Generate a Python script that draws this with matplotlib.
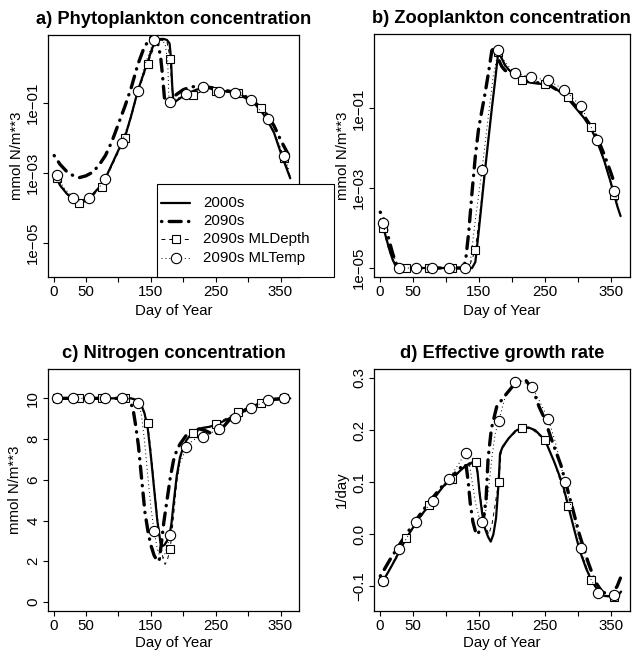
import numpy as np
import matplotlib
matplotlib.use("Agg")
import matplotlib.pyplot as plt
from matplotlib.lines import Line2D
from matplotlib.patches import Rectangle
from matplotlib.ticker import FixedLocator, NullLocator

plt.rcParams['font.family'] = ['Liberation Sans', 'DejaVu Sans']

W, H = 632, 656
FS = 10.8

# days carrying symbols for the two sensitivity runs
SQ_DAYS = [5, 40, 75, 110, 145, 180, 215, 250, 285, 320, 355]
CI_DAYS = [5, 30, 55, 80, 105, 130, 155, 180, 205, 230, 255, 280, 305, 330, 355]

# a) phytoplankton, log10 of mmol N/m**3
phy_base_day = [1, 10, 20, 30, 40, 50, 60, 70, 80, 90, 100, 110, 120, 130, 140, 145, 150, 155, 160, 165,
                170, 175, 179, 181, 183, 185, 190, 200, 210, 220, 230, 240, 250, 260, 270, 280, 290, 300, 310, 320,
                330, 340, 350, 360, 365]
phy_base = [-3.0, -3.35, -3.58, -3.75, -3.85, -3.8, -3.62, -3.42, -3.15, -2.75, -2.35, -1.98, -1.35, -0.65, -0.1,
            0.15, 0.45, 0.7, 0.8, 0.83, 0.83, 0.8, 0.7, 0.3, -0.5, -1.0, -0.93, -0.8, -0.7, -0.62, -0.58, -0.58,
            -0.62, -0.65, -0.68, -0.72, -0.8, -0.9, -1.02, -1.22, -1.5, -1.85, -2.4, -2.9, -3.15]
phy_2090_day = [1, 10, 20, 30, 40, 50, 60, 70, 80, 90, 100, 110, 120, 130, 140, 150, 155, 160, 165, 168,
                171, 175, 180, 190, 200, 210, 220, 230, 240, 250, 260, 270, 280, 290, 300, 310, 320, 330, 340, 350,
                360, 363]
phy_2090 = [-2.5, -2.75, -2.95, -3.07, -3.13, -3.08, -2.98, -2.78, -2.5, -2.1, -1.6, -1.1, -0.55, 0.1, 0.6, 0.87,
            0.88, 0.75, 0.35, -0.2, -0.85, -0.95, -0.9, -0.75, -0.62, -0.55, -0.52, -0.52, -0.55, -0.58, -0.62,
            -0.66, -0.7, -0.76, -0.85, -0.98, -1.15, -1.35, -1.65, -2.05, -2.4, -2.5]
phy_mld_day = [1, 5, 20, 40, 55, 75, 90, 110, 120, 130, 145, 155, 165, 175, 180, 182, 185, 195, 215, 230,
               250, 270, 285, 300, 320, 335, 355, 365]
phy_mld = [-3.05, -3.14, -3.6, -3.87, -3.75, -3.39, -2.8, -2.01, -1.4, -0.7, 0.11, 0.6, 0.8, 0.75, 0.26, -0.5,
           -0.97, -0.88, -0.77, -0.66, -0.65, -0.67, -0.71, -0.85, -1.15, -1.6, -2.58, -3.1]
phy_mlt_day = [1, 5, 15, 30, 40, 55, 65, 80, 90, 105, 115, 130, 140, 155, 165, 172, 176, 178, 180, 205,
               230, 255, 280, 305, 330, 345, 355, 363]
phy_mlt = [-2.95, -3.06, -3.4, -3.70, -3.8, -3.72, -3.55, -3.17, -2.75, -2.15, -1.6, -0.65, 0.05, 0.80, 0.82,
           0.7, 0.2, -0.9, -0.96, -0.74, -0.55, -0.68, -0.71, -0.91, -1.47, -2.05, -2.51, -2.9]

# b) zooplankton, log10 of mmol N/m**3
zoo_base_day = [1, 5, 10, 15, 20, 25, 30, 60, 100, 140, 145, 150, 155, 160, 165, 170, 175, 179, 181, 185,
                190, 195, 200, 205, 210, 215, 220, 230, 240, 250, 260, 270, 280, 290, 300, 310, 320, 330, 340, 350,
                360, 365]
zoo_base = [-3.8, -3.95, -4.25, -4.55, -4.8, -4.97, -5.0, -5.0, -5.0, -5.0, -4.85, -4.1, -3.3, -2.5, -1.75, -1.0,
            -0.3, 0.3, 0.4, 0.25, 0.08, -0.02, -0.1, -0.15, -0.22, -0.3, -0.33, -0.36, -0.38, -0.4, -0.45, -0.55,
            -0.68, -0.85, -1.05, -1.25, -1.5, -1.85, -2.3, -2.85, -3.45, -3.7]
zoo_2090_day = [1, 5, 10, 15, 20, 25, 30, 60, 100, 125, 130, 135, 140, 145, 150, 155, 160, 165, 170, 173,
                178, 185, 190, 200, 210, 220, 230, 240, 250, 260, 270, 280, 290, 300, 310, 320, 330, 340, 350, 355]
zoo_2090 = [-3.6, -3.7, -4.0, -4.35, -4.65, -4.88, -5.0, -5.0, -5.0, -5.0, -4.85, -4.1, -3.1, -2.2, -1.5, -1.05,
            -0.6, -0.1, 0.45, 0.5, 0.3, 0.05, -0.05, -0.12, -0.2, -0.28, -0.32, -0.36, -0.4, -0.45, -0.55, -0.66,
            -0.82, -1.0, -1.2, -1.45, -1.75, -2.15, -2.6, -2.85]
zoo_mld_day = [1, 5, 15, 25, 40, 75, 110, 135, 145, 155, 165, 175, 180, 190, 200, 215, 230, 250, 265, 285,
               300, 320, 340, 355, 365]
zoo_mld = [-3.85, -4.0, -4.6, -4.97, -5.0, -5.0, -5.0, -5.0, -4.55, -3.2, -1.7, -0.3, 0.4, 0.05, -0.12, -0.3,
           -0.36, -0.4, -0.5, -0.72, -1.0, -1.47, -2.3, -3.17, -3.7]
zoo_mlt_day = [1, 5, 15, 30, 55, 80, 105, 130, 137, 145, 155, 165, 172, 180, 190, 205, 230, 255, 280, 305,
               330, 345, 355, 362]
zoo_mlt = [-3.75, -3.87, -4.5, -5.0, -5.0, -5.0, -5.0, -5.0, -4.9, -3.8, -2.55, -1.15, -0.2, 0.47, 0.15, -0.12,
           -0.22, -0.3, -0.53, -0.95, -1.8, -2.6, -3.07, -3.4]

# c) nitrogen, mmol N/m**3
nit_base_day = [1, 100, 120, 130, 135, 140, 145, 150, 155, 160, 165, 168, 171, 175, 179, 182, 185, 190, 195, 200,
                205, 210, 220, 230, 240, 250, 260, 270, 280, 290, 300, 310, 320, 330, 340, 350, 365]
nit_base = [10, 10, 10, 9.9, 9.7, 9.3, 8.6, 7.2, 5.6, 4.0, 2.9, 2.75, 2.8, 3.0, 3.3, 3.9, 4.8, 6.2, 7.1, 7.6,
            7.95, 8.15, 8.45, 8.55, 8.6, 8.7, 8.85, 9.0, 9.2, 9.35, 9.5, 9.65, 9.8, 9.9, 9.97, 10.0, 10.0]
nit_2090_day = [1, 110, 115, 120, 123, 127, 131, 136, 141, 146, 150, 155, 160, 163, 166, 170, 175, 180, 185, 190,
                195, 205, 215, 225, 235, 245, 255, 262, 270, 280, 300, 320, 340, 365]
nit_2090 = [10, 10, 9.95, 9.7, 9.4, 8.6, 7.66, 6.0, 4.4, 3.4, 2.8, 2.3, 2.0, 2.05, 2.8, 3.9, 5.0, 6.1, 6.95, 7.45,
            7.75, 8.2, 8.45, 8.5, 8.4, 8.25, 8.3, 8.6, 8.9, 9.15, 9.5, 9.8, 9.95, 10.0]
nit_mld_day = [1, 5, 40, 75, 110, 125, 135, 145, 150, 155, 160, 165, 169, 172, 175, 180, 185, 190, 195, 200,
               207, 215, 230, 250, 265, 285, 300, 320, 340, 355, 365]
nit_mld = [10, 10, 10, 10, 10, 9.95, 9.65, 8.77, 7.5, 5.8, 4.2, 2.9, 2.1, 1.85, 2.0, 2.62, 4.2, 5.9, 7.0, 7.6,
           8.05, 8.28, 8.45, 8.72, 9.0, 9.35, 9.55, 9.79, 9.95, 10.0, 10.0]
nit_mlt_day = [1, 5, 30, 55, 80, 105, 120, 130, 135, 140, 145, 150, 155, 160, 165, 170, 175, 180, 185, 190,
               195, 205, 215, 230, 240, 255, 265, 280, 305, 330, 355, 365]
nit_mlt = [10, 10, 10, 10, 10, 10, 9.97, 9.79, 9.3, 8.0, 6.3, 4.7, 3.49, 2.6, 2.15, 2.2, 2.7, 3.27, 4.6, 5.9,
           6.8, 7.61, 7.95, 8.12, 8.25, 8.51, 8.75, 9.05, 9.51, 9.92, 10.0, 10.0]

# d) effective growth rate, 1/day
gr_base_day = [1, 5, 15, 25, 35, 41, 50, 60, 75, 90, 100, 110, 120, 130, 140, 145, 148, 151, 155, 159,
               164, 168, 172, 176, 180, 182, 186, 195, 205, 215, 225, 235, 250, 264, 277, 285, 295, 303, 312, 320,
               328, 336, 345, 355, 362, 365]
gr_base = [-0.092, -0.09, -0.068, -0.045, -0.02, -0.0065, 0.012, 0.032, 0.056, 0.082, 0.098, 0.107, 0.12, 0.132,
           0.138, 0.139, 0.12, 0.08, 0.04, 0.012, -0.005, -0.014, 0.0, 0.031, 0.101, 0.155, 0.168, 0.184, 0.198,
           0.205, 0.205, 0.2, 0.181, 0.139, 0.095, 0.055, 0.005, -0.033, -0.065, -0.088, -0.104, -0.117, -0.119,
           -0.119, -0.115, -0.11]
gr_2090_day = [1, 5, 15, 25, 35, 50, 65, 80, 95, 110, 120, 128, 131, 134, 137, 141, 145, 148, 152, 157,
               161, 164, 169, 177, 190, 205, 215, 221, 233, 241, 249, 261, 274, 287, 302, 315, 326, 336, 345, 352,
               359, 364]
gr_2090 = [-0.08, -0.072, -0.05, -0.03, -0.01, 0.018, 0.045, 0.07, 0.093, 0.112, 0.125, 0.135, 0.13, 0.1, 0.06,
           0.024, 0.005, -0.001, 0.01, 0.03, 0.069, 0.146, 0.203, 0.245, 0.267, 0.29, 0.296, 0.296, 0.274, 0.245,
           0.223, 0.178, 0.133, 0.072, 0.0, -0.053, -0.091, -0.11, -0.115, -0.112, -0.1, -0.084]
gr_mld_day = [1, 5, 20, 40, 55, 75, 90, 110, 125, 145, 150, 155, 160, 165, 170, 175, 180, 184, 195, 215,
              230, 250, 265, 285, 300, 320, 335, 355, 362]
gr_mld = [-0.093, -0.09, -0.055, -0.0065, 0.02, 0.056, 0.082, 0.107, 0.125, 0.139, 0.095, 0.05, 0.015, 0.0, 0.02,
          0.06, 0.101, 0.16, 0.185, 0.205, 0.202, 0.181, 0.135, 0.055, -0.02, -0.088, -0.115, -0.12, -0.115]
gr_mlt_day = [1, 5, 15, 30, 42, 55, 67, 80, 92, 105, 118, 130, 135, 140, 145, 150, 155, 160, 165, 170,
              175, 180, 190, 205, 215, 230, 240, 255, 265, 280, 290, 305, 315, 330, 340, 355, 362]
gr_mlt = [-0.095, -0.09, -0.068, -0.029, -0.005, 0.023, 0.044, 0.064, 0.085, 0.107, 0.132, 0.157, 0.14, 0.1, 0.06,
          0.035, 0.023, 0.04, 0.09, 0.15, 0.195, 0.217, 0.265, 0.292, 0.294, 0.283, 0.26, 0.221, 0.18, 0.101, 0.05,
          -0.026, -0.075, -0.112, -0.12, -0.117, -0.11]

LABELS = ["2000s", "2090s", "2090s MLDepth", "2090s MLTemp"]
X_TICKS = [0, 50, 100, 150, 200, 250, 300, 350]
X_TICKLABELS = ["0", "50", "", "150", "", "250", "", "350"]

# line styles, R-like
base_kw = dict(color="black", lw=1.6, solid_capstyle="round")
fut_kw = dict(color="black", lw=2.4, dashes=(0.1, 2.2, 3.6, 2.2), dash_capstyle="round")
mld_kw = dict(color="black", lw=0.7, dashes=(4, 4), marker="s", ms=6.0, mfc="white", mec="black", mew=0.8)
mlt_kw = dict(color="black", lw=0.7, dashes=(1, 3), marker="o", ms=7.4, mfc="white", mec="black", mew=0.8)


def px_rect(left, top, right, bottom):
    return [left / W, 1 - bottom / H, (right - left) / W, (bottom - top) / H]


def panel(ax, box, title, ylabel, runs, ylab_x, xlab_y, log=False):
    left, top, right, bottom = box
    (bd, bv), (fd, fv), (md, mv), (td, tv) = runs
    conv = (lambda v: 10.0 ** np.asarray(v)) if log else np.asarray
    ax.plot(bd, conv(bv), zorder=3, **base_kw)
    ax.plot(fd, conv(fv), zorder=3, **fut_kw)
    md, td = np.asarray(md), np.asarray(td)
    ax.plot(md, conv(mv), markevery=list(np.flatnonzero(np.isin(md, SQ_DAYS))), zorder=4, **mld_kw)
    ax.plot(td, conv(tv), markevery=list(np.flatnonzero(np.isin(td, CI_DAYS))), zorder=5, **mlt_kw)
    ax.set_xlim(-8.5, 378.5)
    ax.set_xticks(X_TICKS)
    ax.set_xticklabels(X_TICKLABELS)
    ax.set_title(title, fontsize=13.2, fontweight="bold", pad=7.6)
    ax.set_xlabel("Day of Year", fontsize=FS)
    ax.set_ylabel(ylabel, fontsize=FS)
    # label centres given in pixels
    ax.xaxis.label.set_va("center")
    ax.xaxis.set_label_coords(0.5, (bottom - xlab_y) / (bottom - top))
    ax.yaxis.label.set_va("center")
    ax.yaxis.set_label_coords((ylab_x - left) / (right - left), 0.5)
    ax.tick_params(direction="out", length=3.6, width=0.8, labelsize=FS, pad=2)
    ax.tick_params(axis="y", labelrotation=90)
    for lab in ax.get_yticklabels():
        lab.set_va("center")
    for s in ax.spines.values():
        s.set_linewidth(0.9)


BOX_A = (48, 35, 299, 277)
BOX_B = (374, 34, 629.5, 277)
BOX_C = (48, 369, 299, 611)
BOX_D = (374, 369, 630, 611)

fig = plt.figure(figsize=(W / 100, H / 100), dpi=100)
ax_a = fig.add_axes(px_rect(*BOX_A))
ax_b = fig.add_axes(px_rect(*BOX_B))
ax_c = fig.add_axes(px_rect(*BOX_C))
ax_d = fig.add_axes(px_rect(*BOX_D))

for ax, lims in ((ax_a, (-5.97, 0.943)), (ax_b, (-5.225, 0.8625))):
    ax.set_yscale("log")
    ax.set_ylim(10 ** lims[0], 10 ** lims[1])
    ax.yaxis.set_major_locator(FixedLocator([1e-5, 1e-3, 1e-1]))
    ax.yaxis.set_minor_locator(NullLocator())
    ax.set_yticklabels(["1e\u221205", "1e\u221203", "1e\u221201"])

ax_c.set_ylim(-0.44, 11.44)
ax_c.set_yticks([0, 2, 4, 6, 8, 10])
ax_c.set_yticklabels(["0", "2", "4", "6", "8", "10"])
ax_d.set_ylim(-0.1472, 0.3173)
ax_d.set_yticks([-0.1, 0.0, 0.1, 0.2, 0.3])
ax_d.set_yticklabels(["\u22120.1", "0.0", "0.1", "0.2", "0.3"])

panel(ax_a, BOX_A, "a) Phytoplankton concentration", "mmol N/m**3",
      [(phy_base_day, phy_base), (phy_2090_day, phy_2090), (phy_mld_day, phy_mld), (phy_mlt_day, phy_mlt)],
      17, 311, log=True)
panel(ax_b, BOX_B, "b) Zooplankton concentration", "mmol N/m**3",
      [(zoo_base_day, zoo_base), (zoo_2090_day, zoo_2090), (zoo_mld_day, zoo_mld), (zoo_mlt_day, zoo_mlt)],
      343, 311, log=True)
panel(ax_c, BOX_C, "c) Nitrogen concentration", "mmol N/m**3",
      [(nit_base_day, nit_base), (nit_2090_day, nit_2090), (nit_mld_day, nit_mld), (nit_mlt_day, nit_mlt)],
      15, 643)
panel(ax_d, BOX_D, "d) Effective growth rate", "1/day",
      [(gr_base_day, gr_base), (gr_2090_day, gr_2090), (gr_mld_day, gr_mld), (gr_mlt_day, gr_mlt)],
      342, 643)

# legend drawn by hand in figure pixels, box overhanging panel a
LEG_L, LEG_T, LEG_R, LEG_B = 157, 184, 334, 277
fig.add_artist(Rectangle((LEG_L / W, 1 - LEG_B / H), (LEG_R - LEG_L) / W, (LEG_B - LEG_T) / H,
                         transform=fig.transFigure, facecolor="white", edgecolor="black",
                         lw=0.8, zorder=10))
entry_y = [202.7, 221.0, 239.3, 257.7]
for yy, kw, text in zip(entry_y, (base_kw, fut_kw, mld_kw, mlt_kw), LABELS):
    yf = 1 - yy / H
    line = Line2D([161 / W, 175.5 / W, 190 / W], [yf, yf, yf], transform=fig.transFigure, zorder=11, **kw)
    if "marker" in kw:
        line.set_markevery([1])
    fig.add_artist(line)
    fig.text(203 / W, yf, text, fontsize=FS, va="center", ha="left", zorder=11)

fig.savefig("out.png", dpi=100)
